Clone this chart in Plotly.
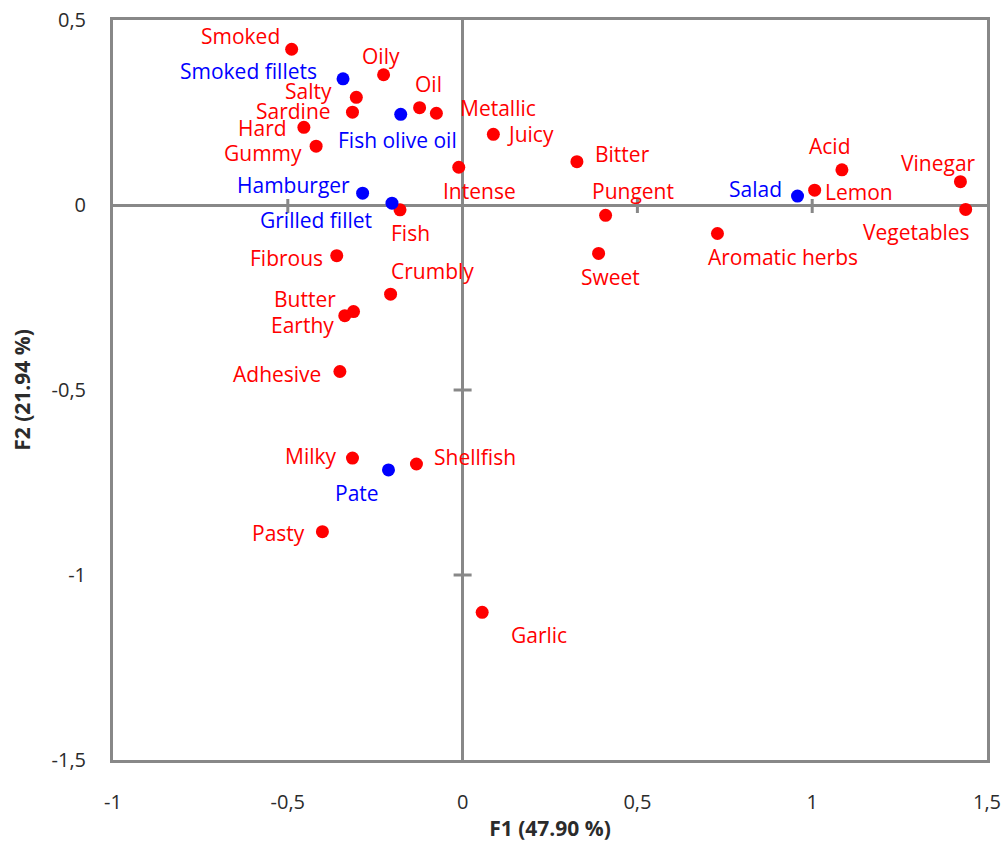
import plotly.graph_objects as go

# Sensory attributes (red) projected on the first two factors
attr_names = ["Smoked", "Oily", "Salty", "Sardine", "Oil", "Metallic", "Hard", "Gummy",
              "Juicy", "Intense", "Bitter", "Fish", "Pungent", "Sweet", "Aromatic herbs",
              "Lemon", "Acid", "Vinegar", "Vegetables", "Fibrous", "Crumbly", "Butter",
              "Earthy", "Adhesive", "Milky", "Shellfish", "Pasty", "Garlic"]
attr_f1 = [-0.489, -0.226, -0.304, -0.315, -0.123, -0.075, -0.454, -0.419,
           0.088, -0.011, 0.327, -0.179, 0.409, 0.389, 0.729,
           1.007, 1.085, 1.424, 1.439, -0.360, -0.206, -0.312,
           -0.337, -0.351, -0.315, -0.132, -0.401, 0.056]
attr_f2 = [0.421, 0.352, 0.291, 0.251, 0.263, 0.248, 0.210, 0.159,
           0.191, 0.102, 0.117, -0.013, -0.028, -0.131, -0.077,
           0.040, 0.095, 0.063, -0.012, -0.137, -0.241, -0.288,
           -0.299, -0.450, -0.684, -0.700, -0.883, -1.101]

# Products (blue)
prod_names = ["Smoked fillets", "Fish olive oil", "Hamburger", "Grilled fillet", "Salad", "Pate"]
prod_f1 = [-0.342, -0.177, -0.286, -0.202, 0.958, -0.212]
prod_f2 = [0.341, 0.245, 0.032, 0.005, 0.024, -0.716]

# Axis ticks
x_tickvals = [-1, -0.5, 0, 0.5, 1, 1.5]
x_ticktext = ["-1", "-0,5", "0", "0,5", "1", "1,5"]
y_tickvals = [0.5, 0, -0.5, -1, -1.5]
y_ticktext = ["0,5", "0", "-0,5", "-1", "-1,5"]

# Label placement relative to each point, in pixels (dx right, dy up)
label_offsets = {
    "Smoked": (-51, 13), "Oily": (-3, 19), "Salty": (-48, 6), "Sardine": (-59, 1),
    "Oil": (9, 24), "Metallic": (62, 5), "Hard": (-41, -1), "Gummy": (-53, -7),
    "Juicy": (37, 0), "Intense": (21, -24), "Bitter": (46, 8), "Fish": (10, -23),
    "Pungent": (27, 24), "Sweet": (12, -24), "Aromatic herbs": (66, -24),
    "Lemon": (44, -2), "Acid": (-12, 24), "Vinegar": (-22, 19), "Vegetables": (-49, -23),
    "Fibrous": (-50, -2), "Crumbly": (42, 23), "Butter": (-49, 13), "Earthy": (-42, -9),
    "Adhesive": (-63, -2), "Milky": (-41, 2), "Shellfish": (59, 7), "Pasty": (-44, -1),
    "Garlic": (57, -23),
    "Smoked fillets": (-95, 8), "Fish olive oil": (-3, -26), "Hamburger": (-69, 8),
    "Grilled fillet": (-76, -17), "Salad": (-42, 7), "Pate": (-31, -23),
}

RED = "#FF0000"
BLUE = "#0000FF"
GREY = "#888888"
INK = "#2b2b2b"
LABEL_FONT = "Open Sans"

fig = go.Figure()
fig.add_trace(go.Scatter(x=attr_f1, y=attr_f2, mode="markers",
                         marker=dict(color=RED, size=13), hoverinfo="text",
                         text=attr_names, showlegend=False))
fig.add_trace(go.Scatter(x=prod_f1, y=prod_f2, mode="markers",
                         marker=dict(color=BLUE, size=13), hoverinfo="text",
                         text=prod_names, showlegend=False))

annotations = []
for names, xs, ys, col in [(attr_names, attr_f1, attr_f2, RED),
                           (prod_names, prod_f1, prod_f2, BLUE)]:
    for n, xv, yv in zip(names, xs, ys):
        dx, dy = label_offsets[n]
        annotations.append(dict(x=xv, y=yv, text=n, showarrow=False,
                                xshift=dx, yshift=dy,
                                font=dict(family=LABEL_FONT, size=21, color=col)))

# Cross ticks on the zero axes
shapes = []
for tv in x_tickvals[1:-1]:
    if tv == 0:
        continue
    shapes.append(dict(type="line", xref="x", yref="y", x0=tv, x1=tv,
                       ysizemode="pixel", yanchor=0, y0=-8, y1=6,
                       line=dict(color=GREY, width=3), layer="below"))
for tv in y_tickvals[1:-1]:
    if tv == 0:
        continue
    shapes.append(dict(type="line", xref="x", yref="y", y0=tv, y1=tv,
                       xsizemode="pixel", xanchor=0, x0=-9, x1=9,
                       line=dict(color=GREY, width=3), layer="below"))

fig.update_layout(
    width=1005, height=852, autosize=False,
    margin=dict(l=113, r=18, t=20, b=92),
    plot_bgcolor="white", paper_bgcolor="white",
    annotations=annotations, shapes=shapes,
    xaxis=dict(range=[-1, 1.5], tickvals=x_tickvals, ticktext=x_ticktext,
               automargin=False,
               showgrid=False, zeroline=True, zerolinecolor=GREY, zerolinewidth=3,
               showline=True, linecolor=GREY, linewidth=3, mirror=True,
               ticks="", ticklabelstandoff=22,
               tickfont=dict(family="Open Sans", size=20, color=INK),
               title=dict(text="<b>F1 (47.90 %)</b>", standoff=8,
                          font=dict(family="Open Sans", size=21, color=INK))),
    yaxis=dict(range=[-1.5, 0.5], tickvals=y_tickvals, ticktext=y_ticktext,
               automargin=False,
               showgrid=False, zeroline=True, zerolinecolor=GREY, zerolinewidth=3,
               showline=True, linecolor=GREY, linewidth=3, mirror=True,
               ticks="", ticklabelstandoff=20,
               tickfont=dict(family="Open Sans", size=20, color=INK),
               title=dict(text="<b>F2 (21.94 %)</b>", standoff=16,
                          font=dict(family="Open Sans", size=21, color=INK))),
)

fig.write_html("out.html")
